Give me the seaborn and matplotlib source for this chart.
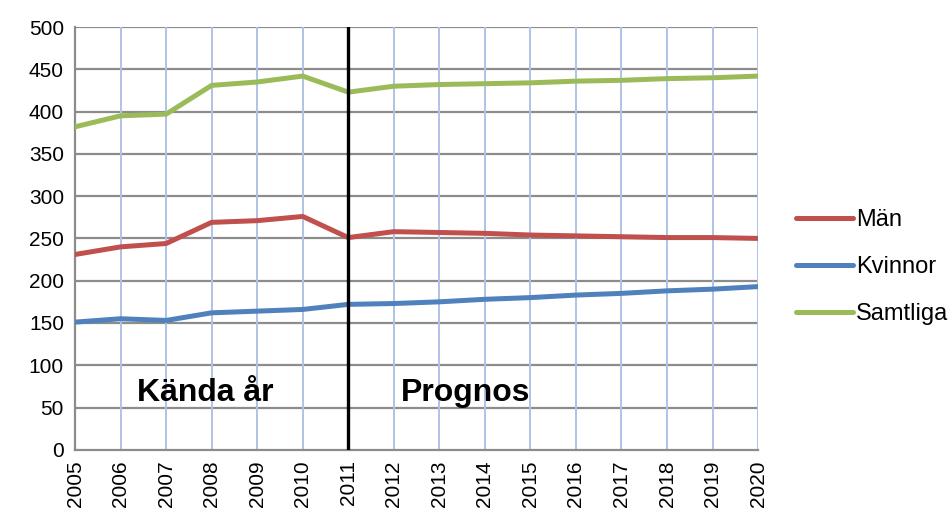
import pandas as pd
import matplotlib.pyplot as plt
import seaborn as sns

years = list(range(2005, 2021))
man = [231, 240, 244, 269, 271, 276, 251, 258, 257, 256, 254, 253, 252, 251, 251, 250]
kvinnor = [151, 155, 153, 162, 164, 166, 172, 173, 175, 178, 180, 183, 185, 188, 190, 193]
samtliga = [382, 395, 397, 431, 435, 442, 423, 430, 432, 433, 434, 436, 437, 439, 440, 442]
series = ['Män', 'Kvinnor', 'Samtliga']
colors = ['#C0504D', '#4F81BD', '#9BBB59']

df = pd.DataFrame({'År': years * 3,
                   'Värde': man + kvinnor + samtliga,
                   'Grupp': [s for s in series for _ in years]})

sns.set_style('white')
plt.rcParams['font.family'] = ['Liberation Sans', 'DejaVu Sans']
plt.rcParams['text.color'] = 'black'
plt.rcParams['xtick.labelcolor'] = 'black'
plt.rcParams['ytick.labelcolor'] = 'black'

fig = plt.figure(figsize=(9.5, 5.2), dpi=100)
ax = fig.add_axes([0.079, 0.135, 0.719, 0.813])

ax.set_yticks(range(0, 501, 50))
ax.set_xticks(years)
for y in range(50, 501, 50):
    ax.axhline(y, color='#8c8c8c', lw=1.6, zorder=1)
for x in years[1:]:
    ax.axvline(x, color='#aec3e8', lw=1.4, zorder=1)

sns.lineplot(data=df, x='År', y='Värde', hue='Grupp', palette=colors,
             linewidth=3.6, ax=ax, zorder=3)

ax.axvline(2011, color='black', lw=2.4, zorder=4)
ax.text(2007.86, 67, 'Kända år', fontsize=23, fontweight='bold', ha='center', va='center')
ax.text(2013.57, 67, 'Prognos', fontsize=23, fontweight='bold', ha='center', va='center')

ax.set_xlim(2005, 2020)
ax.set_ylim(0, 500)
ax.set_xlabel('')
ax.set_ylabel('')
ax.set_xticklabels([str(y) for y in years], rotation=90)
ax.tick_params(axis='both', labelsize=15, length=4, color='#8c8c8c', direction='out')
ax.tick_params(axis='y', pad=4)
for side in ['top', 'right']:
    ax.spines[side].set_visible(False)
for side in ['left', 'bottom']:
    ax.spines[side].set_color('#8c8c8c')
    ax.spines[side].set_linewidth(1.6)

ax.legend(loc='center left', bbox_to_anchor=(0.838, 0.4865), bbox_transform=fig.transFigure,
          frameon=False, fontsize=17, handlelength=2.4, handletextpad=0.15,
          labelspacing=1.05, borderaxespad=0.0, borderpad=0.0)

fig.savefig('out.png', dpi=100)
